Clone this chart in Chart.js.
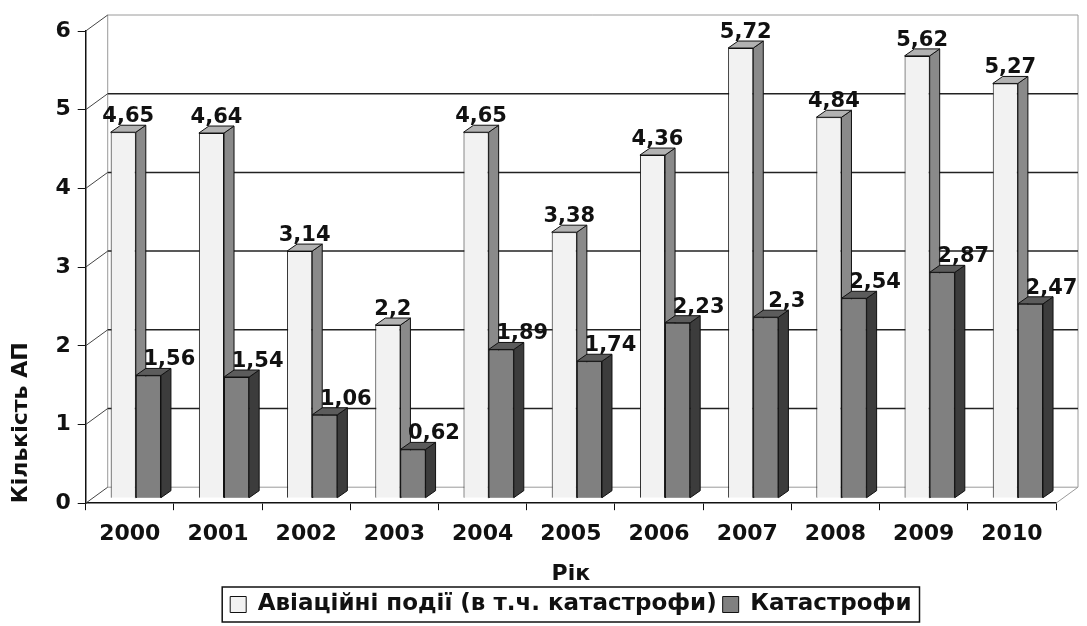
<!DOCTYPE html>
<html>
<head>
<meta charset="utf-8">
<script src="https://cdn.jsdelivr.net/npm/chart.js@4/dist/chart.umd.min.js"></script>
<style>
  html, body { margin: 0; padding: 0; background: #fff; }
  #chart { display: block; }
</style>
</head>
<body>
<canvas id="chart" width="1087" height="626"></canvas>
<script>
const years = ['2000', '2001', '2002', '2003', '2004', '2005', '2006', '2007', '2008', '2009', '2010'];
const aviationEvents = [4.65, 4.64, 3.14, 2.2, 4.65, 3.38, 4.36, 5.72, 4.84, 5.62, 5.27];
const catastrophes = [1.56, 1.54, 1.06, 0.62, 1.89, 1.74, 2.23, 2.3, 2.54, 2.87, 2.47];
const seriesNames = ['Авіаційні події (в т.ч. катастрофи)', 'Катастрофи'];

const FONT = "'DejaVu Sans', 'Liberation Sans', Arial, sans-serif";
const WALL_DX = 22, WALL_DY = -16;   // depth of back wall
const BAR_DX = 10, BAR_DY = -7;      // depth of each 3D bar
const BAR_SHIFT_X = 6, BAR_SHIFT_Y = -5;

function drawFaces(ctx, meta, ds) {
    ctx.save();
    ctx.strokeStyle = '#111';
    ctx.lineWidth = 1;
    meta.data.forEach(bar => {
        const l = bar.x - bar.width / 2, r = bar.x + bar.width / 2;
        const t = bar.y, b = bar.base;
        ctx.beginPath();
        ctx.moveTo(r, t);
        ctx.lineTo(r + BAR_DX, t + BAR_DY);
        ctx.lineTo(r + BAR_DX, b + BAR_DY);
        ctx.lineTo(r, b);
        ctx.closePath();
        ctx.fillStyle = ds.sideColor;
        ctx.fill();
        ctx.stroke();
        ctx.beginPath();
        ctx.moveTo(l, t);
        ctx.lineTo(l + BAR_DX, t + BAR_DY);
        ctx.lineTo(r + BAR_DX, t + BAR_DY);
        ctx.lineTo(r, t);
        ctx.closePath();
        ctx.fillStyle = ds.topColor;
        ctx.fill();
        ctx.stroke();
    });
    ctx.restore();
}

// back wall, floor, gridlines and 3D faces of the bars
const wall3d = {
    id: 'wall3d',
    beforeDatasetsDraw(chart) {
        const ctx = chart.ctx;
        const y = chart.scales.y;
        const a = chart.chartArea;
        ctx.save();
        ctx.lineWidth = 1;
        ctx.strokeStyle = '#9a9a9a';
        ctx.beginPath();
        ctx.moveTo(a.left + WALL_DX, a.bottom + WALL_DY);
        ctx.lineTo(a.left + WALL_DX, a.top + WALL_DY);
        ctx.lineTo(a.right + WALL_DX, a.top + WALL_DY);
        ctx.lineTo(a.right + WALL_DX, a.bottom + WALL_DY);
        ctx.lineTo(a.left + WALL_DX, a.bottom + WALL_DY);
        ctx.moveTo(a.right, a.bottom);
        ctx.lineTo(a.right + WALL_DX, a.bottom + WALL_DY);
        ctx.stroke();
        y.ticks.forEach(t => {
            const py = y.getPixelForValue(t.value);
            if (t.value > y.min && t.value < y.max) {
                ctx.strokeStyle = '#222';
                ctx.lineWidth = 1.5;
                ctx.beginPath();
                ctx.moveTo(a.left + WALL_DX, py + WALL_DY);
                ctx.lineTo(a.right + WALL_DX, py + WALL_DY);
                ctx.stroke();
            }
            ctx.strokeStyle = '#444';
            ctx.lineWidth = 1;
            ctx.beginPath();
            ctx.moveTo(a.left, py);
            ctx.lineTo(a.left + WALL_DX, py + WALL_DY);
            ctx.stroke();
        });
        ctx.restore();
        ctx.save();
        ctx.translate(BAR_SHIFT_X, BAR_SHIFT_Y);
    },
    afterDatasetDraw(chart, args) {
        // dataset 1 is drawn first, dataset 0 last; the dark bars must sit in front
        if (args.index !== 0) return;
        const ctx = chart.ctx;
        drawFaces(ctx, args.meta, chart.data.datasets[0]);
        const darkMeta = chart.getDatasetMeta(1);
        darkMeta.data.forEach(el => el.draw(ctx));
        drawFaces(ctx, darkMeta, chart.data.datasets[1]);
    },
    afterDatasetsDraw(chart) {
        const ctx = chart.ctx;
        ctx.font = 'bold 21px ' + FONT;
        ctx.fillStyle = '#111';
        ctx.textAlign = 'center';
        ctx.textBaseline = 'alphabetic';
        chart.data.datasets.forEach((ds, i) => {
            chart.getDatasetMeta(i).data.forEach((bar, j) => {
                const txt = String(ds.data[j]).replace('.', ',');
                ctx.fillText(txt, bar.x + ds.labelShift, bar.y - 10);
            });
        });
        ctx.restore();
    },
    afterDraw(chart) {
        const boxes = chart.legend.legendHitBoxes;
        if (!boxes || !boxes.length) return;
        const l = Math.min(...boxes.map(b => b.left)) - 8;
        const r = Math.max(...boxes.map(b => b.left + b.width)) + 8;
        const t = Math.min(...boxes.map(b => b.top)) - 6;
        const btm = Math.max(...boxes.map(b => b.top + b.height)) + 6;
        const ctx = chart.ctx;
        ctx.save();
        ctx.strokeStyle = '#111';
        ctx.lineWidth = 1.5;
        ctx.strokeRect(l, t, r - l, btm - t);
        ctx.restore();
    }
};

new Chart(document.getElementById('chart'), {
    type: 'bar',
    data: {
        labels: years,
        datasets: [
            {
                label: seriesNames[0],
                data: aviationEvents,
                backgroundColor: '#f2f2f2',
                borderColor: '#111',
                borderWidth: 1,
                sideColor: '#8a8a8a',
                topColor: '#b2b2b2',
                labelShift: 5
            }, {
                label: seriesNames[1],
                data: catastrophes,
                backgroundColor: '#808080',
                borderColor: '#111',
                borderWidth: 1,
                sideColor: '#3c3c3c',
                topColor: '#5c5c5c',
                labelShift: 21
            }]
    },
    options: {
        responsive: false,
        animation: false,
        devicePixelRatio: 1,
        layout: {
            padding: { left: 0, right: 31, top: 31, bottom: 0 }
        },
        datasets: {
            bar: {
                barPercentage: 1,
                categoryPercentage: 0.57
            }
        },
        scales: {
            x: {
                grid: {
                    offset: true,
                    drawOnChartArea: false,
                    tickLength: 7,
                    color: '#111'
                },
                border: { color: '#111', width: 1.5 },
                ticks: {
                    color: '#111',
                    padding: 11,
                    font: { family: FONT, size: 22, weight: 'bold' }
                },
                title: {
                    display: true,
                    text: 'Рік',
                    color: '#111',
                    font: { family: FONT, size: 22, weight: 'bold' },
                    padding: { top: 2, bottom: 0 }
                }
            },
            y: {
                min: 0,
                max: 6,
                grid: {
                    drawOnChartArea: false,
                    tickLength: 8,
                    color: '#111'
                },
                border: { color: '#111', width: 1.5 },
                ticks: {
                    stepSize: 1,
                    color: '#111',
                    padding: 7,
                    font: { family: FONT, size: 22, weight: 'bold' }
                },
                title: {
                    display: true,
                    text: 'Кількість АП',
                    align: 'start',
                    color: '#111',
                    font: { family: FONT, size: 22, weight: 'bold' },
                    padding: { top: 8, bottom: 14 }
                }
            }
        },
        plugins: {
            legend: {
                position: 'bottom',
                fullSize: false,
                labels: {
                    color: '#111',
                    boxWidth: 16,
                    boxHeight: 16,
                    padding: 6,
                    font: { family: FONT, size: 23, weight: 'bold' }
                }
            },
            tooltip: { enabled: false }
        }
    },
    plugins: [wall3d]
});
</script>
</body>
</html>
